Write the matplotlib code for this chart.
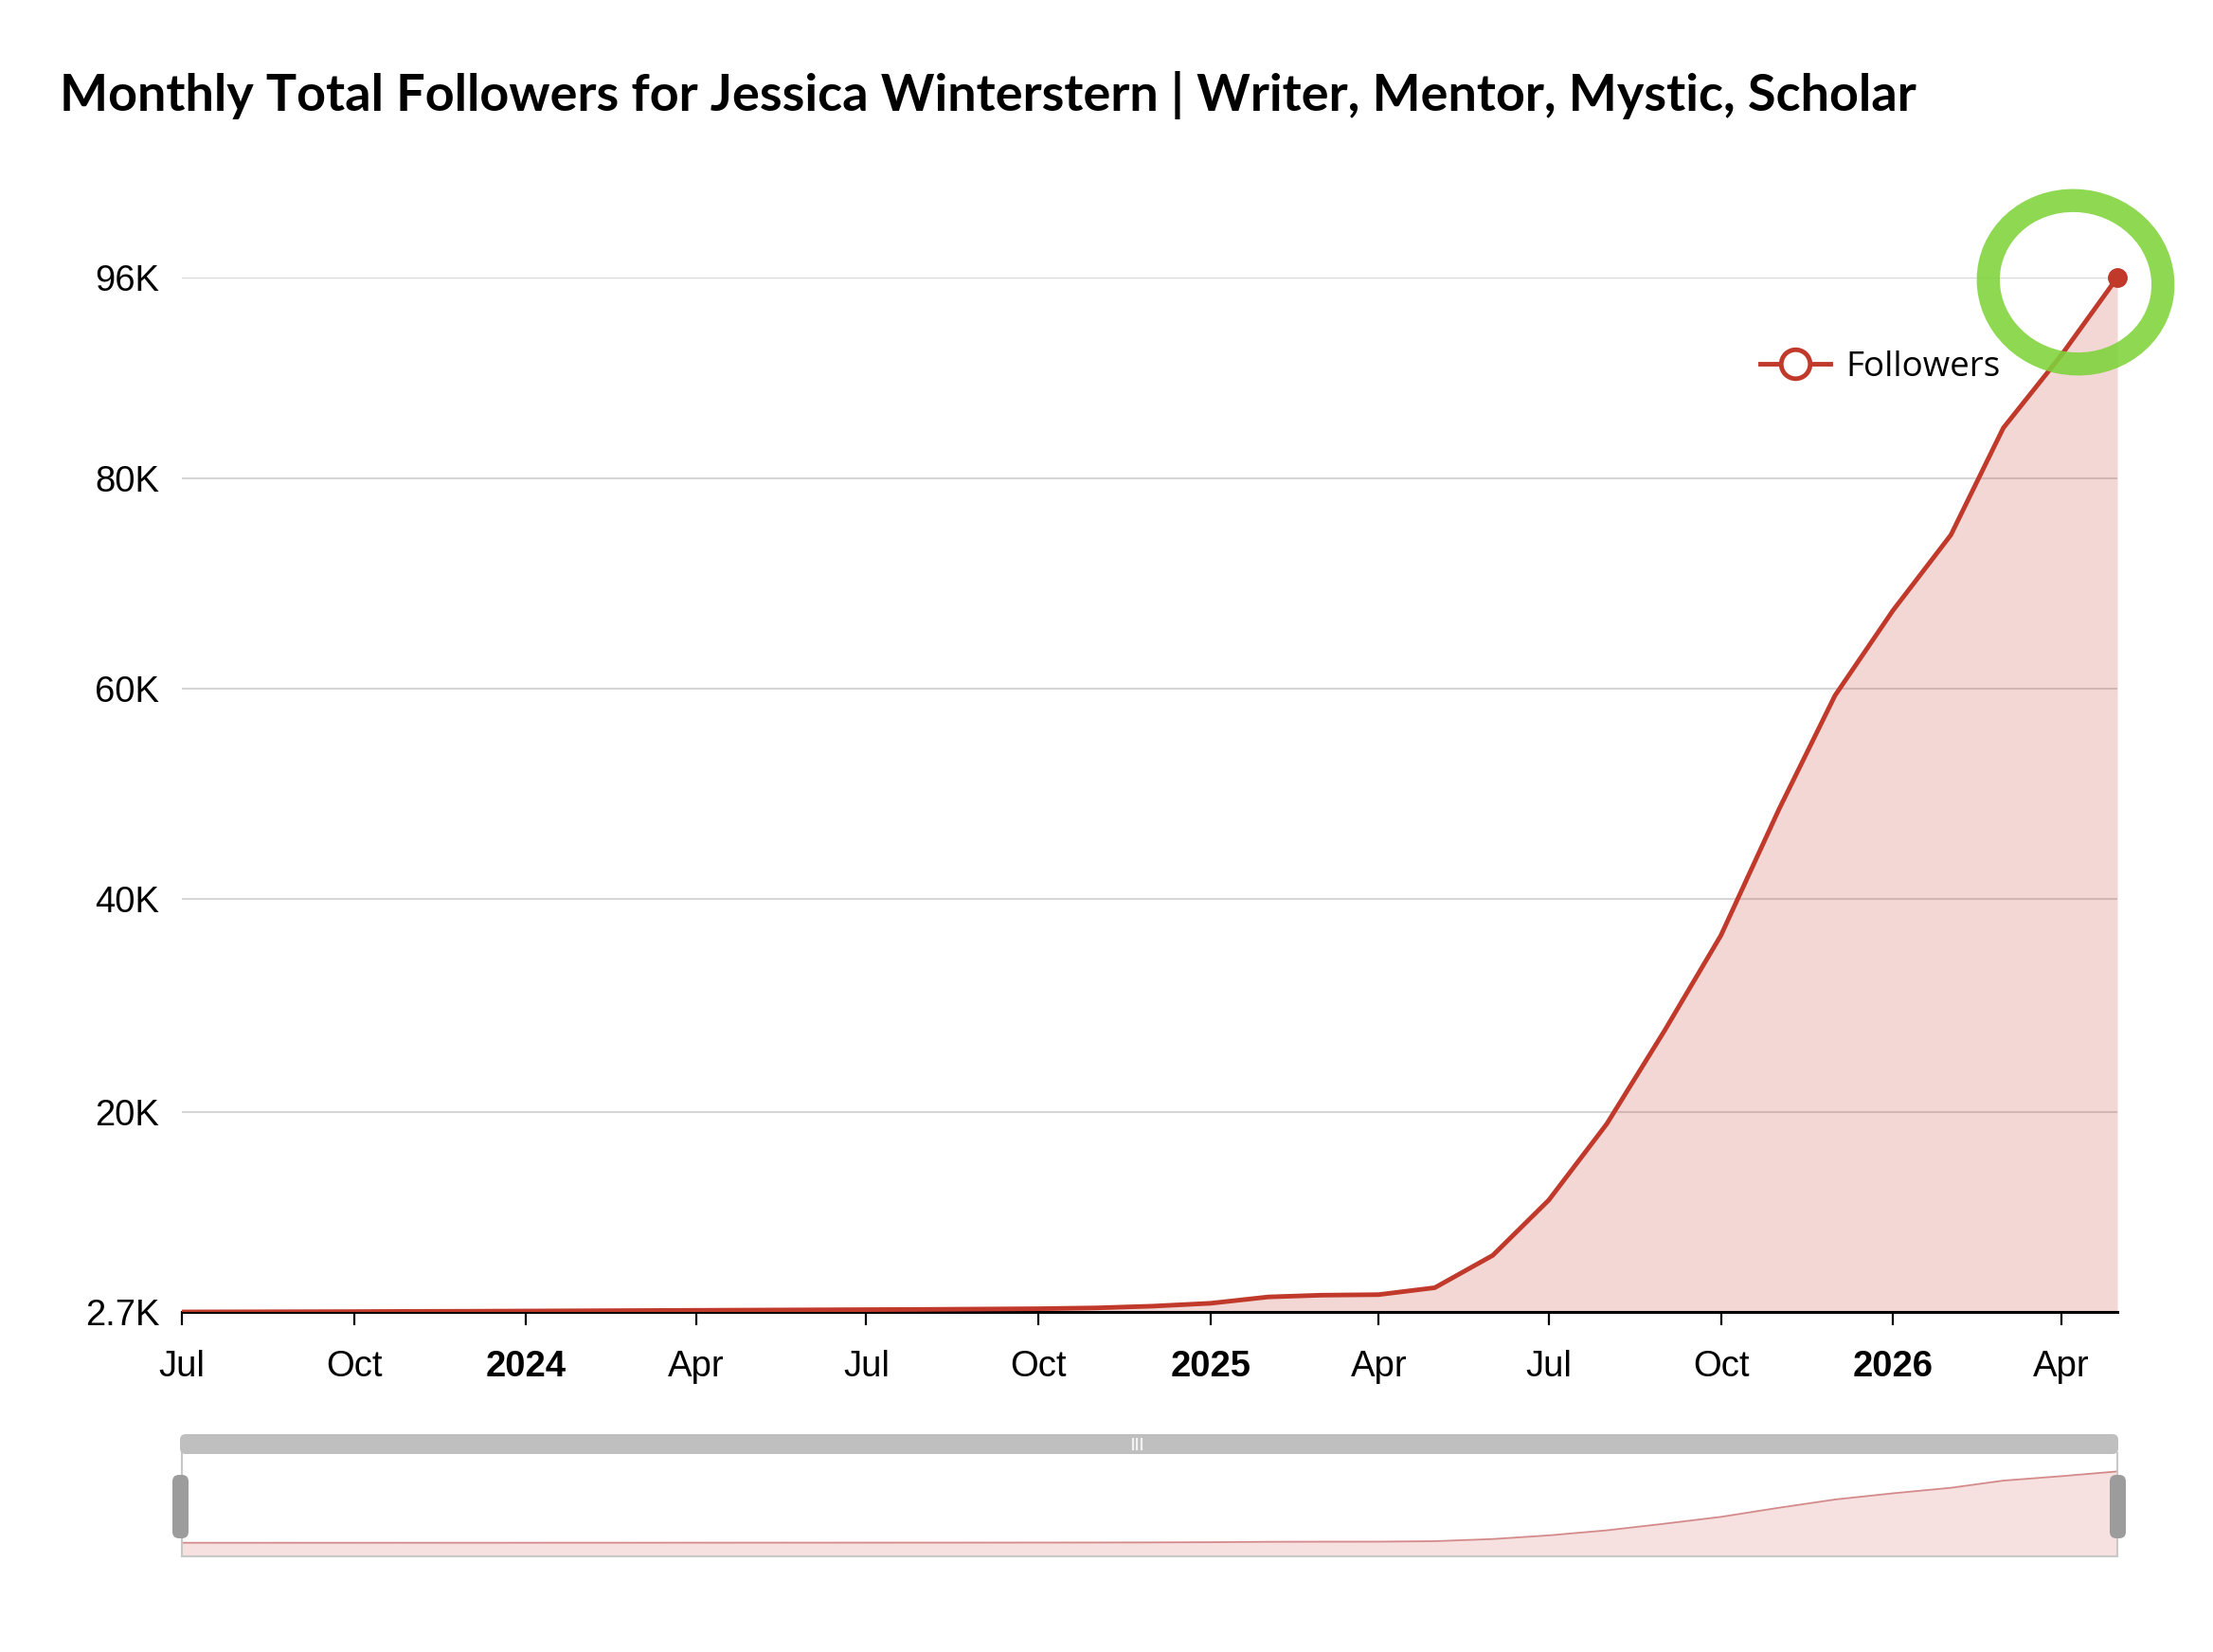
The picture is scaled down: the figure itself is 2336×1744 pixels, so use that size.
import numpy as np
import pandas as pd
import matplotlib
matplotlib.use('Agg')
import matplotlib.pyplot as plt
import matplotlib.dates as mdates
from matplotlib.lines import Line2D
from matplotlib.patches import Ellipse, FancyBboxPatch
from matplotlib.transforms import ScaledTranslation

# --- data ---
months = pd.date_range('2023-07-01', '2026-05-01', freq='MS')
followers_k = [2.70, 2.71, 2.72, 2.73, 2.75, 2.76,          # Jul-Dec 2023
               2.78, 2.80, 2.82, 2.84, 2.86, 2.88,          # Jan-Jun 2024
               2.90, 2.92, 2.95, 2.98, 3.05, 3.20,          # Jul-Dec 2024
               3.45, 4.00, 4.15, 4.20, 4.80, 7.60,          # Jan-Jun 2025
               12.4, 19.0, 27.7, 36.6, 48.5, 59.3,          # Jul-Dec 2025
               67.4, 74.6, 84.0, 89.8, 96.0]                # Jan-May 2026
followers = np.array(followers_k) * 1000

y_ticks = [2700, 20000, 40000, 60000, 80000, 96000]
y_tick_labels = ['2.7K', '20K', '40K', '60K', '80K', '96K']
x_ticks = pd.date_range('2023-07-01', '2026-04-01', freq='3MS')

TITLE = 'Monthly Total Followers for Jessica Winterstern | Writer, Mentor, Mystic, Scholar'

# --- style ---
W, H = 2336, 1744
LINE = '#c0392b'
GREEN = '#7ed33a'
# the reference axis is not evenly spaced between labels
y_tick_frac = [0, 0.193, 0.399, 0.603, 0.806, 1.0]


def fwd(v):
    return np.interp(v, y_ticks, y_tick_frac)


def inv(p):
    return np.interp(p, y_tick_frac, y_ticks)


fig = plt.figure(figsize=(W / 100, H / 100), dpi=100)
fig.patch.set_facecolor('white')

ax = fig.add_axes([192 / W, 1 - 1385 / H, (2235 - 192) / W, (1385 - 293) / H])
ax.set_yscale('function', functions=(fwd, inv))

ax.fill_between(months, followers, y_ticks[0], color=LINE, alpha=0.2, lw=0, zorder=1)
ax.plot(months, followers, color=LINE, lw=3.5, zorder=3, solid_capstyle='round', solid_joinstyle='round')
ax.plot(months[-1:], followers[-1:], 'o', color=LINE, ms=14, zorder=4, clip_on=False)

ax.set_xlim(months[0], months[-1])
ax.set_ylim(y_ticks[0], y_ticks[-1])
ax.set_yticks(y_ticks)
ax.set_yticklabels(y_tick_labels)
ax.set_xticks(x_ticks)
ax.set_xticklabels([d.strftime('%Y') if d.month == 1 else d.strftime('%b') for d in x_ticks])
for lbl, d in zip(ax.get_xticklabels(), x_ticks):
    if d.month == 1:
        lbl.set_fontweight('bold')

for s in ['top', 'right', 'left']:
    ax.spines[s].set_visible(False)
ax.spines['bottom'].set_linewidth(2.2)
ax.spines['bottom'].set_color('black')
ax.tick_params(axis='y', length=0, pad=17, labelsize=27.5)
ax.tick_params(axis='x', length=10, width=1.6, direction='out', pad=19, labelsize=27.5)
for lbl in ax.get_xticklabels() + ax.get_yticklabels():
    lbl.set_family('Liberation Sans')
ax.grid(axis='y', color='#d6d6d6', lw=1.5)
ax.set_axisbelow(True)
ax.set_facecolor('white')

handle = Line2D([], [], color=LINE, lw=3.5, marker='o', ms=22, mfc='white', mec=LINE, mew=3.5)
ax.legend([handle], ['Followers'], loc='center left', bbox_to_anchor=(0.8155, 0.913),
          frameon=False, handlelength=2.0, handletextpad=0.45, borderpad=0, borderaxespad=0,
          prop={'family': 'Open Sans', 'size': 26.5})

# hand drawn green ring around the latest value
ring_trans = fig.dpi_scale_trans + ScaledTranslation(mdates.date2num(months[-1]), followers[-1], ax.transData)
ring = Ellipse((-0.44, -0.05), 1.85, 1.72, angle=-12, fill=False, ec=GREEN, lw=17.5,
               alpha=0.88, transform=ring_trans)
fig.add_artist(ring)

# --- data zoom slider ---
ax2 = fig.add_axes([192 / W, 1 - 1643 / H, (2235 - 192) / W, (1643 - 1534) / H])
mini_lo, mini_hi = -15000, 120000
ax2.fill_between(months, followers, mini_lo, color='#f6e0e0', lw=0)
ax2.plot(months, followers, color='#d48a8a', lw=1.3)
ax2.set_xlim(months[0], months[-1])
ax2.set_ylim(mini_lo, mini_hi)
ax2.set_xticks([])
ax2.set_yticks([])
for s in ax2.spines.values():
    s.set_color('#c8c8c8')
    s.set_linewidth(1.5)
ax2.spines['top'].set_visible(False)

inch = fig.dpi_scale_trans
bar = FancyBboxPatch((1.90, (H - 1535) / 100), 20.46, 0.21,
                     boxstyle='round,pad=0,rounding_size=0.06', fc='#bfbfbf', ec='none', transform=inch)
fig.add_artist(bar)
for gx in (11.955, 12.00, 12.045):
    fig.add_artist(Line2D([gx, gx], [(H - 1530) / 100, (H - 1519) / 100], color='#f2f2f2', lw=1.6,
                          transform=inch))
for hx in (1.82, 22.27):
    fig.add_artist(FancyBboxPatch((hx, (H - 1624) / 100), 0.17, 0.67,
                                  boxstyle='round,pad=0,rounding_size=0.07', fc='#9c9c9c', ec='none',
                                  transform=inch))

title = fig.text(63 / W, 1 - 100 / H, TITLE, fontsize=40, fontweight='bold', family='Lato',
                 va='center', ha='left')
fig.canvas.draw()
tw = title.get_window_extent().width
title.set_fontsize(40 * 1962 / tw)

fig.savefig('out.png', dpi=100)
